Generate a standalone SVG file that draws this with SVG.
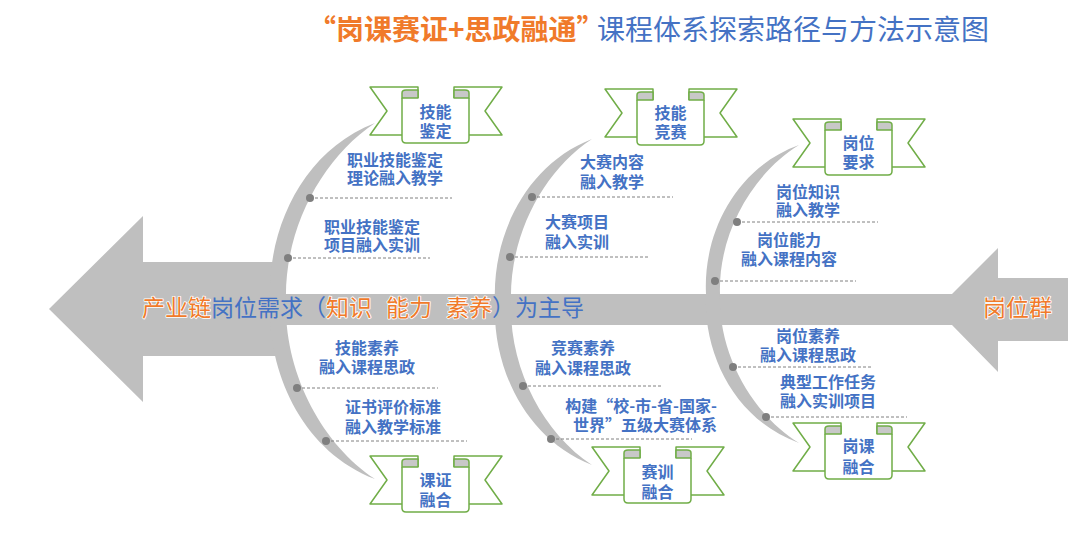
<svg xmlns="http://www.w3.org/2000/svg" xmlns:xlink="http://www.w3.org/1999/xlink" width="1080" height="539" viewBox="0 0 1080 539">
<style>
text{font-family:"Noto Sans CJK SC","Noto Sans",sans-serif}
.lbl{font-size:16px;font-weight:bold;fill:#4472C4;text-anchor:middle}
.ttl{font-size:28px}
.blue{fill:#4472C4}
.org{fill:#F07A2A;stroke:#FFFFFF;stroke-width:1.6px;paint-order:stroke;stroke-linejoin:round}
.bone{fill:#BFBFBF}
.dash{stroke:#808080;stroke-width:1;stroke-dasharray:3 2;fill:none}
.dot{fill:#7F7F7F}
.rib{fill:#FFFFFF;stroke:#70AD47;stroke-width:1.5;stroke-linejoin:round}
.curl{fill:#C8C8C8;stroke:#70AD47;stroke-width:1.5;stroke-linejoin:round}
</style>
<defs>
<g id="banner">
<path class="rib" d="M0,0 L48,0 L48,48 L0,48 L17,24 Z"/>
<path class="rib" d="M132,0 L84,0 L84,48 L132,48 L115,24 Z"/>
<path class="rib" d="M32,11 L32,52 Q32,56 36,56 L95,56 Q99,56 99,52 L99,11"/>
<path class="curl" d="M32,11 L32,6 Q32,3 36,3 L48,3 L48,11 Z"/>
<path class="curl" d="M99,11 L99,6 Q99,3 95,3 L84,3 L84,11 Z"/>
</g>
</defs>

<g id="title">
<text class="ttl org" x="308" y="40" font-weight="bold">“岗课赛证+思政融通”</text>
<text class="ttl blue" x="597" y="40">课程体系探索路径与方法示意图</text>
</g>

<g id="skeleton">
<polygon class="bone" points="49,309 143,216 143,262 280,262 280,356 143,356 143,402"/>
<rect class="bone" x="278" y="294" width="676" height="31"/>
<polygon class="bone" points="952,294 998,248 998,278 1068,278 1068,341 998,341 998,372 952,325"/>
<path class="bone" d="M375,123 C302,151 267,230 270,301 C267,372 302,451 375,479 C322,444 284,373 286,301 C284,229 322,158 375,123 Z"/>
<path class="bone" d="M592,139 C525,165 492,237 495,302 C492,367 525,439 592,465 C543,433 509,368 511,302 C509,236 543,171 592,139 Z"/>
<path class="bone" d="M799,145 C735,168 703,234 706,294 C703,354 735,420 799,443 C752,414 718,354 720,294 C718,234 752,174 799,145 Z"/>
</g>

<g id="connectors">
<line class="dash" x1="310" y1="198" x2="452" y2="198"/>
<line class="dash" x1="288" y1="258" x2="430" y2="258"/>
<line class="dash" x1="297" y1="388" x2="438" y2="388"/>
<line class="dash" x1="326" y1="441" x2="467" y2="441"/>
<line class="dash" x1="532" y1="197" x2="673" y2="197"/>
<line class="dash" x1="510" y1="257" x2="650" y2="257"/>
<line class="dash" x1="523" y1="386" x2="663" y2="386"/>
<line class="dash" x1="551" y1="439" x2="692" y2="439"/>
<line class="dash" x1="737" y1="222" x2="878" y2="222"/>
<line class="dash" x1="715" y1="281" x2="856" y2="281"/>
<line class="dash" x1="733" y1="367" x2="873" y2="367"/>
<line class="dash" x1="766" y1="417" x2="907" y2="417"/>
<circle class="dot" cx="310" cy="198" r="4"/>
<circle class="dot" cx="288" cy="258" r="4"/>
<circle class="dot" cx="297" cy="388" r="4"/>
<circle class="dot" cx="326" cy="441" r="4"/>
<circle class="dot" cx="532" cy="197" r="4"/>
<circle class="dot" cx="510" cy="257" r="4"/>
<circle class="dot" cx="523" cy="386" r="4"/>
<circle class="dot" cx="551" cy="439" r="4"/>
<circle class="dot" cx="737" cy="222" r="4"/>
<circle class="dot" cx="715" cy="281" r="4"/>
<circle class="dot" cx="733" cy="367" r="4"/>
<circle class="dot" cx="766" cy="417" r="4"/>
</g>

<g id="spine-label">
<text x="142" y="316" style="font-size:23px"><tspan class="org">产业链</tspan><tspan class="blue">岗位需求（</tspan><tspan class="org">知识</tspan><tspan class="org" dx="14">能力</tspan><tspan class="org" dx="14">素养</tspan><tspan class="blue">）为主导</tspan></text>
</g>
<g id="head-label">
<text class="org" x="983" y="316" style="font-size:23px">岗位群</text>
</g>

<g id="node-jnjd">
<use xlink:href="#banner" x="370" y="87"/>
<text class="lbl" x="435.5" y="118">技能<tspan x="435.5" dy="19">鉴定</tspan></text>
</g>
<g id="node-jnjs">
<use xlink:href="#banner" x="605" y="89"/>
<text class="lbl" x="670.5" y="119">技能<tspan x="670.5" dy="19">竞赛</tspan></text>
</g>
<g id="node-gwyq">
<use xlink:href="#banner" x="793" y="119"/>
<text class="lbl" x="858.5" y="149">岗位<tspan x="858.5" dy="19">要求</tspan></text>
</g>
<g id="node-kzrh">
<use xlink:href="#banner" x="370" y="456"/>
<text class="lbl" x="435.5" y="486">课证<tspan x="435.5" dy="20">融合</tspan></text>
</g>
<g id="node-sxrh">
<use xlink:href="#banner" x="592" y="447"/>
<text class="lbl" x="657.5" y="478">赛训<tspan x="657.5" dy="20">融合</tspan></text>
</g>
<g id="node-gkrh">
<use xlink:href="#banner" x="793" y="423"/>
<text class="lbl" x="858.5" y="452">岗课<tspan x="858.5" dy="21">融合</tspan></text>
</g>

<g id="item-1"><text class="lbl" x="395" y="166">职业技能鉴定<tspan x="395" dy="18">理论融入教学</tspan></text></g>
<g id="item-2"><text class="lbl" x="372" y="233">职业技能鉴定<tspan x="372" dy="18">项目融入实训</tspan></text></g>
<g id="item-3"><text class="lbl" x="367" y="354">技能素养<tspan x="367" dy="19">融入课程思政</tspan></text></g>
<g id="item-4"><text class="lbl" x="393" y="413">证书评价标准<tspan x="393" dy="20">融入教学标准</tspan></text></g>
<g id="item-5"><text class="lbl" x="612" y="168">大赛内容<tspan x="612" dy="20">融入教学</tspan></text></g>
<g id="item-6"><text class="lbl" x="577" y="228">大赛项目<tspan x="577" dy="20">融入实训</tspan></text></g>
<g id="item-7"><text class="lbl" x="583" y="354">竞赛素养<tspan x="583" dy="20">融入课程思政</tspan></text></g>
<g id="item-8"><text class="lbl" x="641" y="412">构建“校-市-省-国家-<tspan x="645" dy="19">世界”五级大赛体系</tspan></text></g>
<g id="item-9"><text class="lbl" x="808" y="198">岗位知识<tspan x="808" dy="18">融入教学</tspan></text></g>
<g id="item-10"><text class="lbl" x="789" y="246">岗位能力<tspan x="789" dy="19">融入课程内容</tspan></text></g>
<g id="item-11"><text class="lbl" x="808" y="342">岗位素养<tspan x="808" dy="19">融入课程思政</tspan></text></g>
<g id="item-12"><text class="lbl" x="828" y="388">典型工作任务<tspan x="828" dy="19">融入实训项目</tspan></text></g>
</svg>
